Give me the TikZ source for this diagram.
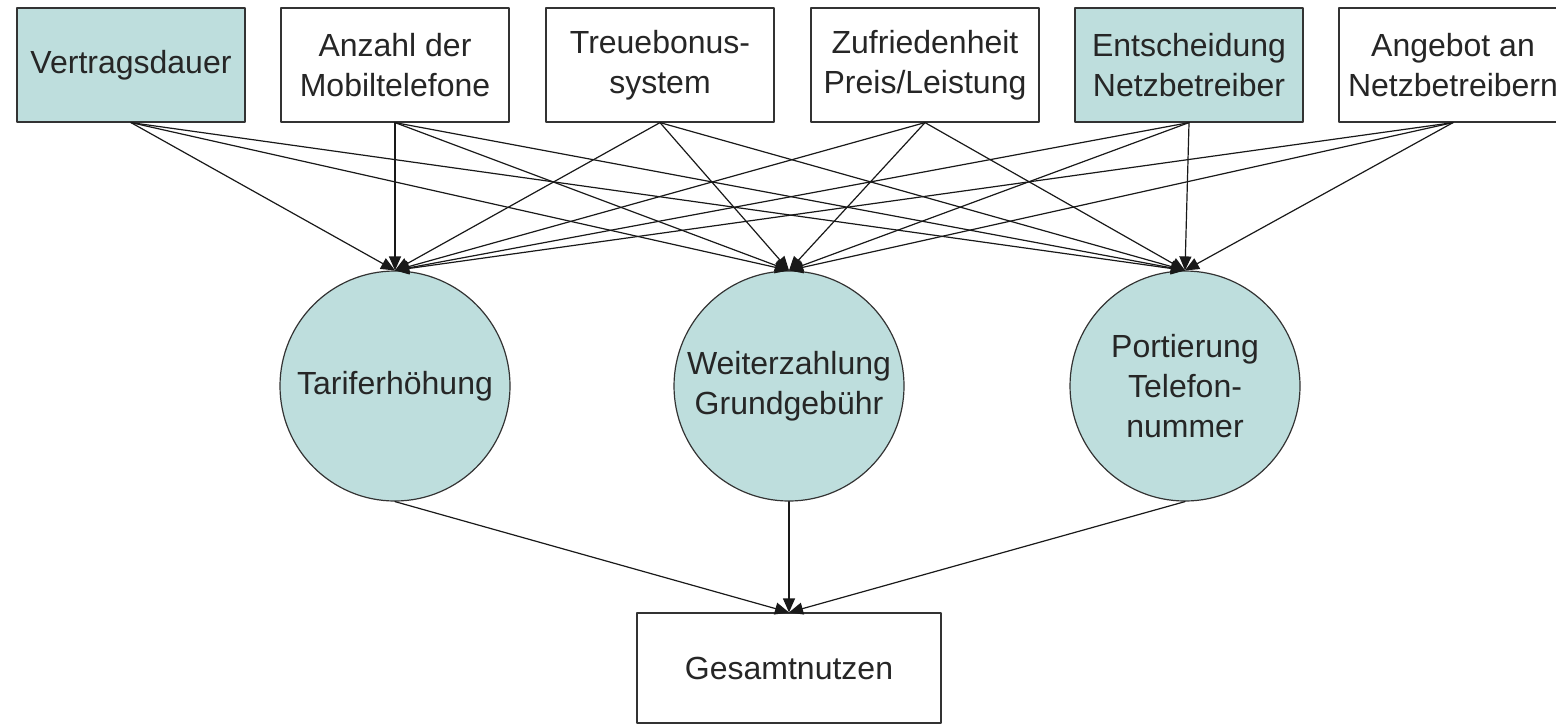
\documentclass[tikz,border=0pt]{standalone}
\usepackage{fontspec}
\setmainfont{Liberation Sans}
\usetikzlibrary{arrows.meta}
\definecolor{tealfill}{RGB}{190,222,221}
\tikzset{
  factor/.style={draw=black!80,line width=.6pt,minimum width=114pt,minimum height=57pt,inner sep=0pt,align=center,text=black!85,font=\fontsize{16}{20}\selectfont},
  state/.style={circle,draw=black!80,line width=.6pt,fill=tealfill,minimum size=115pt,inner sep=0pt,align=center,text=black!85,font=\fontsize{16}{20}\selectfont},
}
\begin{document}
\begin{tikzpicture}[line cap=round,line join=round,>={Triangle[length=7pt,width=6pt]},x=.5pt,y=-.5pt]
		\clip(0,0) rectangle (1556,724);
		\fill[white] (0,0) rectangle (1556,724);
		% Einflussgroessen
		\node[factor,fill=tealfill] (vd) at (131,65) {Vertragsdauer};
		\node[factor] (anz) at (395,65) {Anzahl der\\Mobiltelefone};
		\node[factor] (treue) at (660,65) {Treuebonus-\\system};
		\node[factor] (zuf) at (925,65) {Zufriedenheit\\Preis/Leistung};
		\node[factor,fill=tealfill] (ents) at (1189,65) {Entscheidung\\Netzbetreiber};
		\node[factor] (angb) at (1453,65) {Angebot an\\Netzbetreibern};
		% Zwischenziele
		\node[state] (tarif) at (395,386) {Tariferhöhung};
		\node[state] (weiter) at (789,386) {Weiterzahlung\\Grundgebühr};
		\node[state] (port) at (1185,386) {Portierung\\Telefon-\\nummer};
		\node[factor,minimum width=152pt,minimum height=55pt] (ges) at (789,668) {Gesamtnutzen};
		\foreach \s in {vd,anz,treue,zuf,ents,angb}
			\foreach \t in {tarif,weiter,port}
				\draw[->,line width=.6pt,black!90] (\s.south)--(\t.north);
		\foreach \t in {tarif,weiter,port}
			\draw[->,line width=.6pt,black!90] (\t.south)--(ges.north);
	\end{tikzpicture}
\end{document}
